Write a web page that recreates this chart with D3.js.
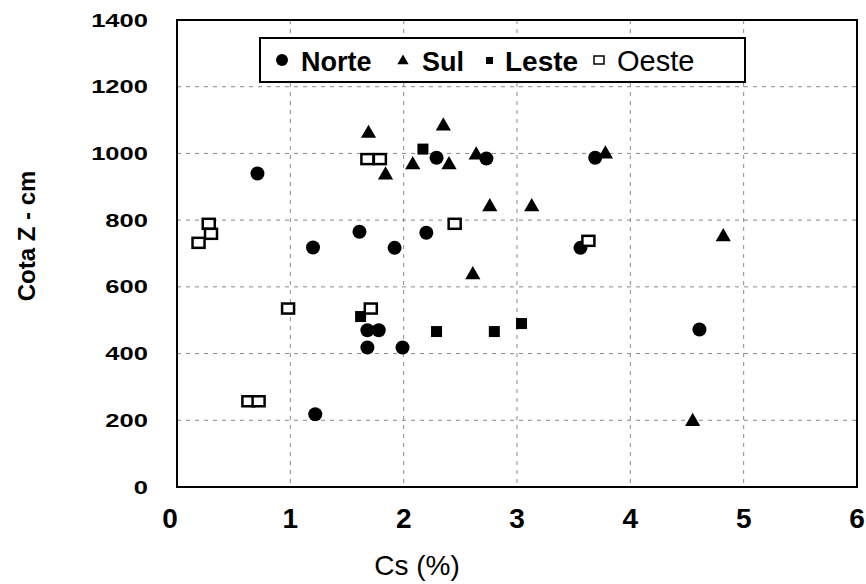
<!DOCTYPE html>
<html>
<head>
<meta charset="utf-8">
<script src="https://d3js.org/d3.v7.min.js"></script>
<style>
  body { margin: 0; background: #fff; }
  text { font-family: "Liberation Sans", Arial, sans-serif; fill: #000; }
</style>
</head>
<body>
<div id="chart"></div>
<script>
// Data: [Cs (%), Cota Z (cm)]
const norte = [
    [0.71, 940], [1.20, 718], [1.61, 765], [1.92, 717], [2.20, 762],
    [2.29, 987], [2.73, 985], [3.69, 987], [3.56, 717], [1.68, 470],
    [1.78, 470], [1.68, 418], [1.99, 418], [1.22, 218], [4.61, 472]
];
const sul = [
    [1.69, 1060], [2.35, 1082], [1.84, 935], [2.08, 966], [2.40, 966],
    [2.64, 995], [2.76, 840], [3.78, 998], [3.13, 840], [4.82, 750],
    [2.61, 636], [4.55, 196]
];
const leste = [
    [2.17, 1013], [1.62, 511], [2.29, 466], [2.80, 466], [3.04, 490]
];
const oeste = [
    [1.68, 983], [1.79, 983], [0.28, 789], [0.30, 759], [0.19, 732],
    [2.45, 789], [3.63, 738], [0.98, 535], [1.71, 535], [0.63, 257], [0.72, 257]
];
const xTicks = [0, 1, 2, 3, 4, 5, 6];
const yTicks = [0, 200, 400, 600, 800, 1000, 1200, 1400];

const W = 866, H = 584;
const plot = { left: 177, right: 857, top: 20, bottom: 487 };

const svg = d3.select("#chart").append("svg")
    .attr("width", W)
    .attr("height", H);

const x = d3.scaleLinear().domain([0, 6]).range([plot.left, plot.right]);
const y = d3.scaleLinear().domain([0, 1400]).range([plot.bottom, plot.top]);

// Gridlines
svg.append("g").selectAll("line")
    .data(yTicks.slice(1, -1))
    .join("line")
    .attr("x1", plot.left).attr("x2", plot.right)
    .attr("y1", d => y(d)).attr("y2", d => y(d))
    .attr("stroke", "#8a8a8a")
    .attr("stroke-width", 1)
    .attr("stroke-dasharray", "4,5");

svg.append("g").selectAll("line")
    .data(xTicks.slice(1, -1))
    .join("line")
    .attr("x1", d => x(d)).attr("x2", d => x(d))
    .attr("y1", plot.top).attr("y2", plot.bottom)
    .attr("stroke", "#8a8a8a")
    .attr("stroke-width", 1)
    .attr("stroke-dasharray", "4,5");

// Frame
svg.append("rect")
    .attr("x", plot.left)
    .attr("y", plot.top)
    .attr("width", plot.right - plot.left)
    .attr("height", plot.bottom - plot.top)
    .attr("fill", "none")
    .attr("stroke", "#000")
    .attr("stroke-width", 2);

// Tick labels (y labels are wide in the scan, x labels tall)
svg.append("g").selectAll("text")
    .data(yTicks)
    .join("text")
    .attr("transform", d => `translate(148,${y(d) + 6.5}) scale(1.42,1)`)
    .attr("text-anchor", "end")
    .attr("font-size", 18)
    .attr("font-weight", "bold")
    .text(d => d);

svg.append("g").selectAll("text")
    .data(xTicks)
    .join("text")
    .attr("x", d => x(d) - (d === 0 ? 7 : 0))
    .attr("y", 528)
    .attr("text-anchor", "middle")
    .attr("font-size", 28)
    .attr("font-weight", "bold")
    .text(d => d);

// Axis titles
svg.append("text")
    .attr("transform", "translate(35,236) rotate(-90)")
    .attr("text-anchor", "middle")
    .attr("font-size", 24)
    .attr("font-weight", "bold")
    .text("Cota Z - cm");

svg.append("text")
    .attr("x", 417)
    .attr("y", 575)
    .attr("text-anchor", "middle")
    .attr("font-size", 28)
    .text("Cs (%)");

// Markers
const tri = d3.symbol().type(d3.symbolTriangle).size(100);

svg.append("g").selectAll("circle")
    .data(norte)
    .join("circle")
    .attr("cx", d => x(d[0]))
    .attr("cy", d => y(d[1]))
    .attr("r", 7)
    .attr("fill", "#000");

svg.append("g").selectAll("path")
    .data(sul)
    .join("path")
    .attr("transform", d => `translate(${x(d[0])},${y(d[1])})`)
    .attr("d", tri)
    .attr("fill", "#000");

svg.append("g").selectAll("rect")
    .data(leste)
    .join("rect")
    .attr("x", d => x(d[0]) - 5.5)
    .attr("y", d => y(d[1]) - 5.5)
    .attr("width", 11)
    .attr("height", 11)
    .attr("fill", "#000");

svg.append("g").selectAll("rect")
    .data(oeste)
    .join("rect")
    .attr("x", d => x(d[0]) - 6)
    .attr("y", d => y(d[1]) - 5)
    .attr("width", 12)
    .attr("height", 10)
    .attr("fill", "#fff")
    .attr("stroke", "#000")
    .attr("stroke-width", 2.5);

// Legend
const legend = svg.append("g");
legend.append("rect")
    .attr("x", 260).attr("y", 38)
    .attr("width", 485).attr("height", 44)
    .attr("fill", "#fff")
    .attr("stroke", "#000")
    .attr("stroke-width", 2);

legend.append("circle").attr("cx", 282).attr("cy", 60).attr("r", 6).attr("fill", "#000");
legend.append("text").attr("x", 301).attr("y", 71).attr("font-size", 27).attr("font-weight", "bold").text("Norte");

legend.append("path").attr("transform", "translate(403,61)")
    .attr("d", d3.symbol().type(d3.symbolTriangle).size(55)).attr("fill", "#000");
legend.append("text").attr("x", 422).attr("y", 71).attr("font-size", 27).attr("font-weight", "bold").text("Sul");

legend.append("rect").attr("x", 486).attr("y", 57).attr("width", 7).attr("height", 7).attr("fill", "#000");
legend.append("text").attr("x", 505).attr("y", 71).attr("font-size", 28).attr("font-weight", "bold").text("Leste");

legend.append("rect").attr("x", 594).attr("y", 56).attr("width", 10).attr("height", 8)
    .attr("fill", "#fff").attr("stroke", "#000").attr("stroke-width", 1.5);
legend.append("text").attr("x", 617).attr("y", 71).attr("font-size", 29).text("Oeste");
</script>
</body>
</html>
